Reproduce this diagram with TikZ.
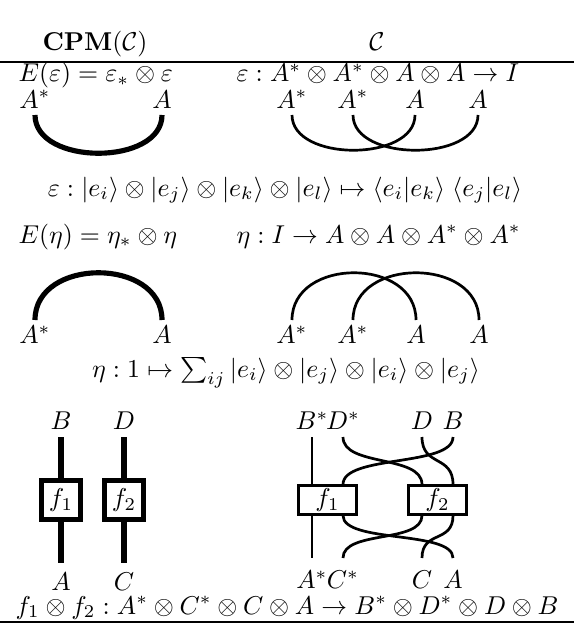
\documentclass[tikz,border=0pt]{standalone}
\usepackage{amsmath}
\usepackage{tikz}
\usetikzlibrary{positioning}

\begin{document}
\begin{tikzpicture}[
  x=0.388pt,y=-0.388pt,
  head/.style={anchor=base,inner sep=0pt},
  eqn/.style={anchor=base west,inner sep=0pt},
  lbl/.style={inner sep=0pt,text height=7pt,text depth=0pt},
  wire/.style={line width=1.05pt},
  fat/.style={line width=2pt},
  cpmbox/.style={draw,line width=2pt,minimum size=15pt,inner sep=0pt},
  morph/.style={draw,line width=1.05pt,minimum width=22.5pt,minimum height=11pt,inner sep=0pt},
  rule/.style={line width=0.7pt}
]
\useasboundingbox (0,0) rectangle (574,626);

% header and rules
\node[head] (cpm) at (95,51) {$\mathbf{CPM}(\mathcal{C})$};
\node[head] (cat) at (377,51) {$\mathcal{C}$};
\coordinate (topL) at (0,62);
\coordinate (topR) at (574,62);
\coordinate (botL) at (0,622);
\coordinate (botR) at (574,622);
\draw[rule] (topL) -- (topR);
\draw[rule] (botL) -- (botR);

% epsilon
\node[eqn] (Eeps) at (18,82) {$E(\varepsilon)=\varepsilon_*\otimes\varepsilon$};
\node[eqn] (eps) at (236,82) {$\varepsilon : A^*\otimes A^*\otimes A\otimes A\to I$};
\coordinate (cuL) at (35,115);
\coordinate (cuR) at (162,115);
\foreach \n/\x in {1/292,2/353,3/415,4/478}
  \coordinate (cu\n) at (\x,115);
\foreach \c/\t in {cuL/A^*,cuR/A,cu1/A^*,cu2/A^*,cu3/A,cu4/A}
  \node[lbl,above=2.4pt of \c] (l\c) {$\t$};
\draw[fat] (cuL) .. controls +(0,51) and +(0,51) .. (cuR);
\draw[wire] (cu1) .. controls +(0,47) and +(0,47) .. (cu3);
\draw[wire] (cu2) .. controls +(0,47) and +(0,47) .. (cu4);
\node[head] (epsmap) at (285,196) {$\varepsilon : \lvert e_i\rangle\otimes\lvert e_j\rangle\otimes\lvert e_k\rangle\otimes\lvert e_l\rangle\mapsto\langle e_i|e_k\rangle\;\langle e_j|e_l\rangle$};

% eta
\node[eqn] (Eeta) at (18,243) {$E(\eta)=\eta_*\otimes\eta$};
\node[eqn] (eta) at (236,243) {$\eta : I\to A\otimes A\otimes A^*\otimes A^*$};
\coordinate (caL) at (35,320);
\coordinate (caR) at (162,320);
\foreach \n/\x in {1/292,2/353,3/416,4/479}
  \coordinate (ca\n) at (\x,320);
\foreach \c/\t in {caL/A^*,caR/A,ca1/A^*,ca2/A^*,ca3/A,ca4/A}
  \node[lbl,below=2pt of \c] (l\c) {$\t$};
\draw[fat] (caL) .. controls +(0,-63) and +(0,-63) .. (caR);
\draw[wire] (ca1) .. controls +(0,-63) and +(0,-63) .. (ca3);
\draw[wire] (ca2) .. controls +(0,-63) and +(0,-63) .. (ca4);
\node[head] (etamap) at (286,377) {$\eta : 1\mapsto\sum_{ij}\,\lvert e_i\rangle\otimes\lvert e_j\rangle\otimes\lvert e_i\rangle\otimes\lvert e_j\rangle$};

% f1 tensor f2 in CPM
\node[cpmbox] (g1) at (61,500) {$f_1$};
\node[cpmbox] (g2) at (124,500) {$f_2$};
\coordinate (gB) at (61,437);
\coordinate (gD) at (124,437);
\coordinate (gA) at (61,563);
\coordinate (gC) at (124,563);
\node[lbl,above=2.6pt of gB] (lgB) {$B$};
\node[lbl,above=2.6pt of gD] (lgD) {$D$};
\node[lbl,below=3.3pt of gA] (lgA) {$A$};
\node[lbl,below=3.3pt of gC] (lgC) {$C$};
\draw[fat] (gB) -- (g1);
\draw[fat] (g1) -- (gA);
\draw[fat] (gD) -- (g2);
\draw[fat] (g2) -- (gC);

% f1 tensor f2 in C
\node[morph] (f1) at (327.5,500) {$f_1$};
\node[morph] (f2) at (437.5,500) {$f_2$};
\path (f1.north) ++(-15.5,0) coordinate (f1nw) ++(31,0) coordinate (f1ne);
\path (f1.south) ++(-15.5,0) coordinate (f1sw) ++(31,0) coordinate (f1se);
\path (f2.north) ++(-15.5,0) coordinate (f2nw) ++(31,0) coordinate (f2ne);
\path (f2.south) ++(-15.5,0) coordinate (f2sw) ++(31,0) coordinate (f2se);
\foreach \n/\x/\t in {Bs/312/B^*,Ds/343/D^*,D/422/D,B/453/B}{
  \coordinate (t\n) at (\x,437);
  \node[lbl,above=2.6pt of t\n] (lt\n) {$\t$};
}
\foreach \n/\x/\t in {As/312/A^*,Cs/343/C^*,C/422/C,A/453/A}{
  \coordinate (b\n) at (\x,558);
  \node[lbl,below=4.8pt of b\n] (lb\n) {$\t$};
}
\draw[wire] (tBs) -- (f1nw);
\draw[wire] (tDs) .. controls +(0,30) and +(0,-30) .. (f2nw);
\draw[wire] (tB) .. controls +(0,30) and +(0,-30) .. (f1ne);
\draw[wire] (tD) .. controls +(0,30) and +(0,-30) .. (f2ne);
\draw[wire] (f1sw) -- (bAs);
\draw[wire] (f1se) .. controls +(0,28) and +(0,-28) .. (bA);
\draw[wire] (f2sw) .. controls +(0,28) and +(0,-28) .. (bCs);
\draw[wire] (f2se) .. controls +(0,28) and +(0,-28) .. (bC);
\node[head] (tensor) at (287,614) {$f_1\otimes f_2 : A^*\otimes C^*\otimes C\otimes A\to B^*\otimes D^*\otimes D\otimes B$};
\end{tikzpicture}
\end{document}
